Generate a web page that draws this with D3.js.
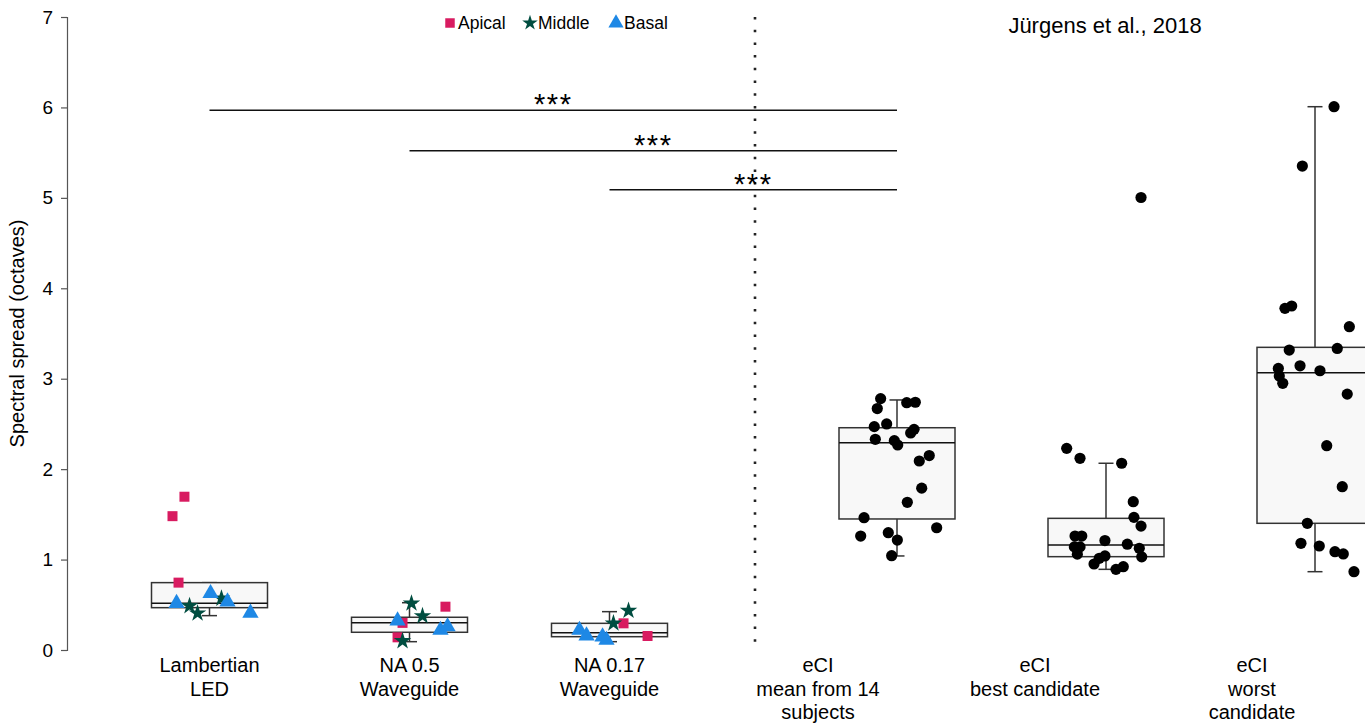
<!DOCTYPE html>
<html>
<head>
<meta charset="utf-8">
<script src="https://cdn.jsdelivr.net/npm/d3@7"></script>
<style>
  body { margin: 0; background: #fff; }
  svg { font-family: "Liberation Sans", Arial, sans-serif; }
</style>
</head>
<body>
<div id="vis"></div>
<script>
// categories and labels
const leftGroups = ["Lambertian\nLED", "NA 0.5\nWaveguide", "NA 0.17\nWaveguide"];
const rightGroups = ["eCI\nmean from 14\nsubjects", "eCI\nbest candidate", "eCI\nworst\ncandidate"];
const regions = ["Apical", "Middle", "Basal"];
const regionColors = ["#d81b60", "#004d40", "#1e88e5"];
const yTicks = [0, 1, 2, 3, 4, 5, 6, 7];

// box stats: [low whisker, q1, median, q3, high whisker]
const leftBoxes = [
  [0.38, 0.468, 0.517, 0.745, 0.745],
  [0.092, 0.196, 0.302, 0.362, 0.523],
  [0.092, 0.147, 0.19, 0.295, 0.424]
];
const rightBoxes = [
  [1.04, 1.449, 2.293, 2.458, 2.765],
  [0.892, 1.032, 1.161, 1.456, 2.065],
  [0.866, 1.401, 3.067, 3.347, 6.008]
];

// electrode values, [value, jitter as fraction of box width]
const apical = [
  [[1.695, -0.216], [1.48, -0.319], [0.745, -0.267]],
  [[0.479, 0.31], [0.30, -0.06], [0.14, -0.103]],
  [[0.295, 0.121], [0.155, 0.328]]
];
const middle = [
  [[0.487, -0.172], [0.406, -0.103], [0.57, 0.103]],
  [[0.516, 0.017], [0.376, 0.112], [0.10, -0.06]],
  [[0.435, 0.164], [0.295, 0.034]]
];
const basal = [
  [[0.517, -0.284], [0.627, 0.009], [0.534, 0.155], [0.41, 0.353]],
  [[0.324, -0.103], [0.22, 0.267], [0.258, 0.328]],
  [[0.22, -0.259], [0.158, -0.198], [0.147, -0.06], [0.11, -0.026]]
];

// eCI values, [value, jitter]
const eciMean = [
  [2.78, -0.141], [2.67, -0.170], [2.735, 0.084], [2.74, 0.158], [2.47, -0.196],
  [2.50, -0.089], [2.44, 0.147], [2.40, 0.118], [2.33, -0.187], [2.315, -0.023],
  [2.267, 0.006], [2.15, 0.278], [2.09, 0.192], [1.79, 0.213], [1.633, 0.089],
  [1.463, -0.284], [1.352, 0.342], [1.26, -0.313], [1.297, -0.075], [1.216, 0.003],
  [1.043, -0.046]
];
const eciBest = [
  [2.23, -0.339], [2.12, -0.224], [2.065, 0.135], [1.64, 0.235], [1.467, 0.241],
  [1.37, 0.302], [1.26, -0.267], [1.26, -0.209], [1.21, -0.009], [1.17, 0.184],
  [1.14, -0.273], [1.14, -0.224], [1.125, 0.287], [1.06, -0.247], [1.03, 0.308],
  [1.04, -0.009], [1.014, -0.058], [0.951, -0.103], [0.921, 0.149], [0.892, 0.086],
  [5.004, 0.302]
];
const eciWorst = [
  [6.008, 0.164], [5.352, -0.109], [3.778, -0.259], [3.804, -0.201], [3.575, 0.296],
  [3.317, -0.222], [3.335, 0.192], [3.143, -0.129], [3.114, -0.316], [3.088, 0.043],
  [3.03, -0.308], [2.949, -0.278], [2.83, 0.278], [2.259, 0.101], [1.806, 0.235],
  [1.401, -0.066], [1.18, -0.121], [1.15, 0.037], [1.087, 0.172], [1.062, 0.244],
  [0.866, 0.336]
];

// significance brackets: [from left group, to right group, label, level]
const sigBars = [[0, 0, "***", 5.97], [1, 0, "***", 5.52], [2, 0, "***", 5.09]];
const title = "Jürgens et al., 2018";

const width = 1365, height = 724;
const boxW = 116;

const svg = d3.select("#vis").append("svg")
  .attr("width", width).attr("height", height);

const y = d3.scaleLinear().domain([0, 7]).range([650, 17]);
const xLeft = d3.scaleLinear().domain([0, 2]).range([209.5, 609.5]);
const xRight = d3.scaleLinear().domain([0, 2]).range([897, 1315]);
const xRightLabel = d3.scaleLinear().domain([0, 2]).range([818, 1252]);

// y axis
const yAxis = svg.append("g")
  .attr("transform", "translate(67,0)")
  .call(d3.axisLeft(y).tickValues(yTicks).tickFormat(d3.format("d")).tickSize(6).tickPadding(8));
yAxis.select(".domain").attr("stroke", "#555").attr("stroke-width", 1.2);
yAxis.selectAll(".tick line").attr("stroke", "#555").attr("stroke-width", 1.2);
yAxis.selectAll(".tick text")
  .style("font-size", "19px").style("fill", "#000")
  .style("font-family", "Liberation Sans, Arial, sans-serif");

svg.append("text")
  .attr("transform", "translate(24," + y(3.5) + ") rotate(-90)")
  .attr("text-anchor", "middle")
  .style("font-size", "20px")
  .text("Spectral spread (octaves)");

// dotted separator
svg.append("line")
  .attr("x1", 755).attr("x2", 755)
  .attr("y1", y(7)).attr("y2", y(0))
  .attr("stroke", "#222").attr("stroke-width", 2.6)
  .attr("stroke-dasharray", "2.5,10.2");

function drawBox(cx, s) {
  const g = svg.append("g");
  g.append("line").attr("x1", cx).attr("x2", cx)
    .attr("y1", y(s[0])).attr("y2", y(s[4]))
    .attr("stroke", "#333").attr("stroke-width", 1.5);
  [s[0], s[4]].forEach(v => {
    g.append("line").attr("x1", cx - 7.5).attr("x2", cx + 7.5)
      .attr("y1", y(v)).attr("y2", y(v))
      .attr("stroke", "#333").attr("stroke-width", 1.5);
  });
  g.append("rect")
    .attr("x", cx - boxW / 2).attr("width", boxW)
    .attr("y", y(s[3])).attr("height", y(s[1]) - y(s[3]))
    .attr("fill", "#f8f8f8").attr("stroke", "#333").attr("stroke-width", 1.5);
  g.append("line").attr("x1", cx - boxW / 2).attr("x2", cx + boxW / 2)
    .attr("y1", y(s[2])).attr("y2", y(s[2]))
    .attr("stroke", "#111").attr("stroke-width", 1.5);
}

leftBoxes.forEach((s, i) => drawBox(xLeft(i), s));
rightBoxes.forEach((s, i) => drawBox(xRight(i), s));

// electrode markers
const shapes = [
  d3.symbol().type(d3.symbolSquare).size(100),
  d3.symbol().type(d3.symbolStar).size(95),
  d3.symbol().type(d3.symbolTriangle).size(115)
];
[apical, middle, basal].forEach((series, r) => {
  series.forEach((pts, i) => {
    svg.append("g").selectAll("path")
      .data(pts).join("path")
      .attr("d", shapes[r])
      .attr("transform", d => "translate(" + (xLeft(i) + d[1] * boxW) + "," + y(d[0]) + ")")
      .attr("fill", regionColors[r]);
  });
});

// eCI dots
[eciMean, eciBest, eciWorst].forEach((pts, i) => {
  svg.append("g").selectAll("circle")
    .data(pts).join("circle")
    .attr("cx", d => xRight(i) + d[1] * boxW)
    .attr("cy", d => y(d[0]))
    .attr("r", 5.6)
    .attr("fill", "#000");
});

// significance
sigBars.forEach(b => {
  const x1 = xLeft(b[0]), x2 = xRight(b[1]);
  svg.append("line")
    .attr("x1", x1).attr("x2", x2)
    .attr("y1", y(b[3])).attr("y2", y(b[3]))
    .attr("stroke", "#111").attr("stroke-width", 1.5);
  svg.append("text")
    .attr("x", (x1 + x2) / 2).attr("y", y(b[3]) + 4)
    .attr("text-anchor", "middle")
    .style("font-size", "29px")
    .attr("letter-spacing", 1.5)
    .text(b[2]);
});

// category labels
function drawLabel(cx, txt) {
  const t = svg.append("text").attr("text-anchor", "middle").style("font-size", "20px");
  txt.split("\n").forEach((line, k) => {
    t.append("tspan").attr("x", cx).attr("y", 672 + k * 23.5).text(line);
  });
}
leftGroups.forEach((g, i) => drawLabel(xLeft(i), g));
rightGroups.forEach((g, i) => drawLabel(xRightLabel(i), g));

// legend
const legendX = [450, 530, 616];
const legendShapes = [
  d3.symbol().type(d3.symbolSquare).size(90),
  d3.symbol().type(d3.symbolStar).size(75),
  d3.symbol().type(d3.symbolTriangle).size(100)
];
regions.forEach((r, i) => {
  svg.append("path")
    .attr("d", legendShapes[i])
    .attr("transform", "translate(" + legendX[i] + ",23)")
    .attr("fill", regionColors[i]);
  svg.append("text")
    .attr("x", legendX[i] + 8).attr("y", 29)
    .style("font-size", "17.5px")
    .text(r);
});

svg.append("text")
  .attr("x", 1105).attr("y", 33)
  .attr("text-anchor", "middle")
  .style("font-size", "22px")
  .text(title);
</script>
</body>
</html>
